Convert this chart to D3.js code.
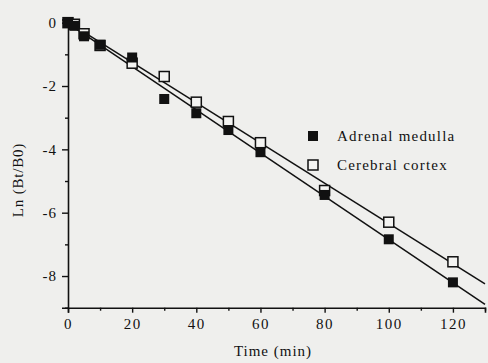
<!DOCTYPE html>
<html><head><meta charset="utf-8">
<script src="https://d3js.org/d3.v7.min.js"></script>
<style>
html,body{margin:0;padding:0;background:#efefed;}
svg{display:block;}
text{font-family:"Liberation Serif","Times New Roman",serif;fill:#111;}
</style></head>
<body>
<script>
const timeAdrenal = [0, 2, 5, 10, 20, 30, 40, 50, 60, 80, 100, 120];
const lnAdrenal   = [0, -0.1, -0.43, -0.7, -1.1, -2.41, -2.86, -3.39, -4.09, -5.44, -6.84, -8.2];
const timeCortex  = [0, 2, 5, 10, 20, 30, 40, 50, 60, 80, 100, 120];
const lnCortex    = [0, -0.05, -0.35, -0.72, -1.28, -1.70, -2.51, -3.12, -3.79, -5.30, -6.30, -7.55];
const seriesNames = ["Adrenal medulla", "Cerebral cortex"];
const xTicks = [0, 20, 40, 60, 80, 100, 120];
const yTicks = [0, -2, -4, -6, -8];

const W = 488, H = 363;
const svg = d3.select("body").append("svg").attr("width", W).attr("height", H);
svg.append("rect").attr("width", W).attr("height", H).attr("fill", "#efefed");

const x = d3.scaleLinear().domain([0, 130]).range([68, 485]);
const y = d3.scaleLinear().domain([-9, 0.1]).range([307.7, 19.5]);

// axes
const xAxis = d3.axisBottom(x).tickValues(xTicks).tickSize(5).tickFormat(d3.format("d"));
const gx = svg.append("g").attr("transform", `translate(0,${y(-9)})`).call(xAxis);
const xMinor = svg.append("g").attr("transform", `translate(0,${y(-9)})`)
  .call(d3.axisBottom(x).tickValues(d3.range(10, 131, 20)).tickSize(3).tickFormat(""));
const yAxis = d3.axisLeft(y).tickValues(yTicks).tickSize(6).tickPadding(5).tickFormat(d3.format("d"));
const gy = svg.append("g").attr("transform", `translate(${x(0)},0)`).call(yAxis);
const yMinor = svg.append("g").attr("transform", `translate(${x(0)},0)`)
  .call(d3.axisLeft(y).tickValues([-1, -3, -5, -7, -9]).tickSize(3).tickFormat(""));
[gx, gy, xMinor, yMinor].forEach(g => {
  g.selectAll("path").attr("stroke", "#111").attr("stroke-width", 1.6);
  g.selectAll("line").attr("stroke", "#111").attr("stroke-width", 1.4);
});
xMinor.select("path").remove(); yMinor.select("path").remove();
gx.selectAll("text").attr("font-size", 15).attr("letter-spacing", 1.5).attr("dy", "0.9em")
  .attr("font-family", '"Liberation Serif", serif').attr("fill", "#111");
gy.selectAll("text").attr("font-size", 15).attr("letter-spacing", 1)
  .attr("font-family", '"Liberation Serif", serif').attr("fill", "#111");
gy.selectAll(".tick text").text(d => d < 0 ? "-" + Math.abs(d) : d);

// axis titles
svg.append("text").attr("x", 273).attr("y", 356).attr("text-anchor", "middle")
  .attr("font-size", 15).attr("letter-spacing", 1).text("Time (min)");
svg.append("text").attr("transform", "translate(23,180) rotate(-90)").attr("text-anchor", "middle")
  .attr("font-size", 15).attr("letter-spacing", 0.8).text("Ln (Bt/B0)");

// regression lines
function fit(xs, ys) {
  const mx = d3.mean(xs), my = d3.mean(ys);
  let num = 0, den = 0;
  xs.forEach((v, i) => { num += (v - mx) * (ys[i] - my); den += (v - mx) * (v - mx); });
  const b = num / den; return { b, a: my - b * mx };
}
[[timeAdrenal, lnAdrenal], [timeCortex, lnCortex]].forEach(([xs, ys]) => {
  const f = fit(xs, ys);
  const x0 = 0, x1 = 130;
  svg.append("line").attr("x1", x(x0)).attr("y1", y(f.a + f.b * x0))
    .attr("x2", x(x1)).attr("y2", y(f.a + f.b * x1))
    .attr("stroke", "#111").attr("stroke-width", 1.5);
});

const S = 10;
svg.append("g").selectAll("rect").data(timeCortex.map((t, i) => [t, lnCortex[i]])).join("rect")
  .attr("x", d => x(d[0]) - S / 2).attr("y", d => y(d[1]) - S / 2)
  .attr("width", S).attr("height", S).attr("fill", "#f4f4f2").attr("stroke", "#111").attr("stroke-width", 1.5);
svg.append("g").selectAll("rect").data(timeAdrenal.map((t, i) => [t, lnAdrenal[i]])).join("rect")
  .attr("x", d => x(d[0]) - S / 2).attr("y", d => y(d[1]) - S / 2)
  .attr("width", S).attr("height", S).attr("fill", "#111");

// legend
const leg = svg.append("g");
seriesNames.forEach((name, i) => {
  const cy = 136 + i * 29;
  leg.append("rect").attr("x", 313 - S / 2).attr("y", cy - S / 2).attr("width", S).attr("height", S)
    .attr("fill", i === 0 ? "#111" : "#f4f4f2").attr("stroke", "#111").attr("stroke-width", i === 0 ? 0 : 1.5);
  leg.append("text").attr("x", 337).attr("y", cy + 5).attr("font-size", 15).attr("letter-spacing", 1.2).text(name);
});
</script>
</body></html>
